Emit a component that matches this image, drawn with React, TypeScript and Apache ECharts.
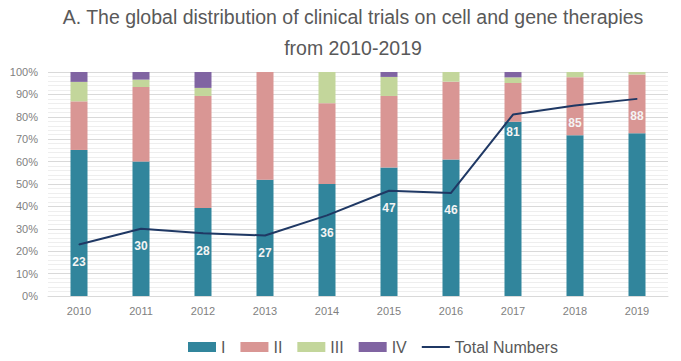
import React, { useEffect, useRef } from "react";
import * as echarts from "echarts";

const years = ["2010", "2011", "2012", "2013", "2014", "2015", "2016", "2017", "2018", "2019"];
// Share of trials per phase (%)
const phaseI = [65.2, 60.0, 39.3, 51.9, 50.0, 57.4, 60.9, 77.8, 71.8, 72.7];
const phaseII = [21.7, 33.3, 50.0, 48.1, 36.1, 31.9, 34.8, 17.3, 25.9, 26.2];
const phaseIII = [8.7, 3.3, 3.6, 0, 13.9, 8.5, 4.3, 2.5, 2.4, 1.1];
const phaseIV = [4.4, 3.4, 7.1, 0, 0, 2.2, 0, 2.4, 0, 0];
// Total number of trials per year
const totals = [23, 30, 28, 27, 36, 47, 46, 81, 85, 88];

const FONT = "'Liberation Sans', Arial, sans-serif";

export default function App() {
  const ref = useRef<HTMLDivElement>(null);
  useEffect(() => {
    if (!ref.current) return;
    const chart = echarts.init(ref.current, null, { renderer: "svg" });
    const barSeries = (name: string, data: number[], color: string) => ({
      name,
      type: "bar",
      stack: "phase",
      barWidth: 17,
      data,
      itemStyle: { color },
      emphasis: { disabled: true },
    });
    chart.setOption({
      animation: false,
      textStyle: { fontFamily: FONT },
      title: {
        text: "A. The global distribution of clinical trials on cell and gene therapies\nfrom 2010-2019",
        left: 353,
        top: 1.5,
        padding: 0,
        textAlign: "center",
        textStyle: {
          fontFamily: FONT,
          fontSize: 19.5,
          fontWeight: "normal",
          color: "#595959",
          lineHeight: 31,
        },
      },
      legend: {
        top: 339,
        left: 188,
        padding: 0,
        itemWidth: 28,
        itemHeight: 10,
        itemGap: 15,
        textStyle: { fontFamily: FONT, fontSize: 16, color: "#595959" },
        data: [
          { name: "I", icon: "rect" },
          { name: "II", icon: "rect" },
          { name: "III", icon: "rect" },
          { name: "IV", icon: "rect" },
          { name: "Total Numbers", icon: "path://M0 0H28V2H0Z" },
        ],
      },
      grid: { left: 48, right: 13, top: 72, bottom: 65 },
      xAxis: {
        type: "category",
        data: years,
        axisLine: { lineStyle: { color: "#d9d9d9" } },
        axisTick: { show: false },
        axisLabel: { color: "#7f7f7f", fontSize: 11, margin: 9, fontFamily: FONT },
      },
      yAxis: {
        type: "value",
        min: 0,
        max: 100,
        interval: 10,
        axisLine: { show: false },
        axisTick: { show: false },
        axisLabel: { formatter: "{value}%", color: "#7f7f7f", fontSize: 11, margin: 10, fontFamily: FONT },
        splitLine: { lineStyle: { color: "#d9d9d9", width: 1 } },
        minorTick: { show: false, splitNumber: 5 },
        minorSplitLine: { show: true, lineStyle: { color: "#eeeeee", width: 1 } },
      },
      series: [
        barSeries("I", phaseI, "#31859c"),
        barSeries("II", phaseII, "#d99694"),
        barSeries("III", phaseIII, "#c3d69b"),
        barSeries("IV", phaseIV, "#8064a2"),
        {
          name: "Total Numbers",
          type: "line",
          data: totals,
          symbol: "circle",
          symbolSize: 1,
          showSymbol: true,
          itemStyle: { color: "#1f3864" },
          lineStyle: { color: "#1f3864", width: 2 },
          emphasis: { disabled: true },
          label: {
            show: true,
            position: "bottom",
            distance: 11,
            color: "#f4f4f4",
            fontWeight: "bold",
            fontSize: 12,
            fontFamily: FONT,
          },
          z: 5,
        },
      ],
    });
    return () => chart.dispose();
  }, []);
  return (
    <div
      ref={ref}
      style={{ position: "fixed", left: 0, top: 0, width: 681, height: 361, background: "#ffffff" }}
    />
  );
}
